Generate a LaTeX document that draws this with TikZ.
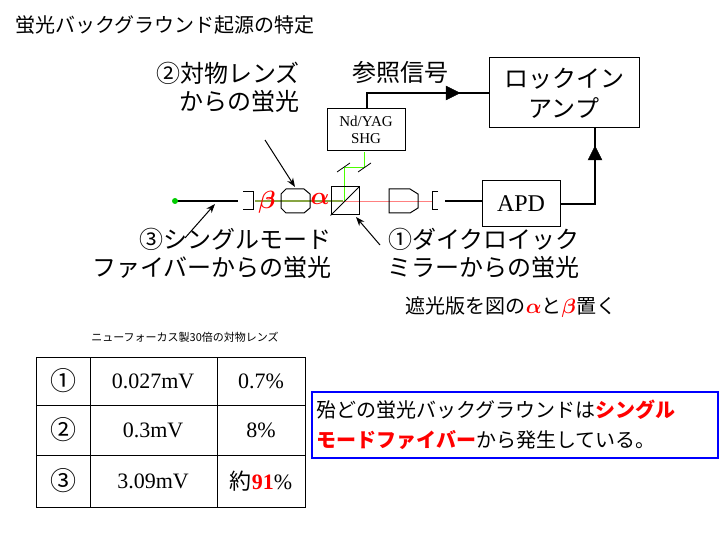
\documentclass[tikz,border=0pt]{standalone}
\usepackage{amsmath,amssymb,bm}
\usepackage{fontspec}
\setmainfont{Liberation Serif}
\newfontfamily\jp{Noto Sans CJK JP}
\usetikzlibrary{arrows.meta}
\begin{document}
\begin{tikzpicture}[x=1pt,y=-1pt,
  blk/.style={draw,line width=1pt},
  wire/.style={line width=1.6pt},
  lbl/.style={font=\jp\fontsize{24}{28}\selectfont,align=right,inner sep=0},
  ptr/.style={-{Stealth[length=9pt]},line width=1pt}]
\useasboundingbox (0,0) rectangle (720,540);
\node[anchor=west,font=\jp\fontsize{20}{22}\selectfont] (title) at (12,25) {蛍光バックグラウンド起源の特定};
% boxes
\node[blk,minimum width=150pt,minimum height=70pt,font=\jp\fontsize{24}{30}\selectfont,align=center] (lock) at (564,93) {ロックイン\\アンプ};
\node[blk,minimum width=78pt,minimum height=46pt,font=\fontsize{24}{26}\selectfont] (apd) at (521,204) {APD};
\node[blk,minimum width=78pt,minimum height=42pt,font=\fontsize{15}{17}\selectfont,align=center,inner sep=1pt] (shg) at (366,130) {Nd/YAG\\SHG};
% reference signal
\coordinate (c1) at (367,93);
\draw[wire] (shg.north -| c1) -- (c1) -- (lock.west |- c1);
\draw[fill] (446,86) -- (460,93) -- (446,100) -- cycle;
\node[lbl,anchor=south west] (ref) at (352,84) {参照信号};
\coordinate (c2) at (595,204);
\draw[wire] (apd.east) -- (c2) -- (lock.south -| c2);
\draw[fill] (588,160) -- (595,146) -- (602,160) -- cycle;
% beams
\draw[red!50,line width=0.8pt] (255,201) -- (432,201);
\draw[yellow!60!green!70!black,line width=1.6pt] (255,201) -- (343,201);
\draw[green!70!yellow,line width=1pt] (364,152) -- (364,168) -- (344,168) -- (344,201);
\draw[line width=0.8pt] (337,172) -- (350,163) (358,172) -- (371,163);
% cube
\node[draw,line width=1pt,minimum width=28pt,minimum height=28pt,inner sep=0] (cube) at (345,201) {};
\draw[line width=0.8pt] (cube.south west) -- (cube.north east);
% lenses
\draw[line width=1pt] (286,189) -- (304,189) -- (310,194) -- (310,208) -- (304,213) -- (286,213) -- (281,208) -- (281,194) -- cycle;
\draw[line width=1pt] (389,189) -- (410,189) -- (418,194) -- (418,208) -- (410,213) -- (389,213) -- cycle;
% connectors
\draw[line width=1pt] (243,192) -- (253,192) -- (253,210) -- (243,210);
\draw[line width=1pt] (438,192) -- (432,192) -- (432,210) -- (438,210);
\coordinate (fl) at (175,201);
\coordinate (fr) at (238,201);
\draw[wire] (fl) -- (fr);
\fill[green!80!black] (fl) circle (3pt);
\coordinate (a1) at (445,201);
\draw[wire] (a1) -- (apd.west |- a1);
\node[text=red,font=\fontsize{24}{26}\selectfont,inner sep=0] (alpha) at (320,199) {$\bm\alpha$};
\node[text=red,font=\fontsize{24}{26}\selectfont,inner sep=0] (beta) at (267,202) {$\bm\beta$};
% labels
\node[lbl,anchor=north east] (l2) at (300,62) {②対物レンズ\\からの蛍光};
\coordinate (p2) at (295,187);
\draw[ptr] (265,140) -- (p2);
\node[lbl,anchor=north east] (l3) at (332,228) {③シングルモード\\ファイバーからの蛍光};
\coordinate (p3) at (215,204);
\draw[ptr] (185,238) -- (p3);
\node[lbl,anchor=north east] (l1) at (580,228) {①ダイクロイック\\ミラーからの蛍光};
\coordinate (p1) at (356,217);
\draw[ptr] (380,245) -- (p1);
\node[font=\jp\fontsize{20}{22}\selectfont] (shade) at (511,307) {遮光版を図の\textcolor{red}{$\bm\alpha$}と\textcolor{red}{$\bm\beta$}置く};
% table
\node[font=\jp\fontsize{11}{12}\selectfont] (cap) at (185,337) {ニューフォーカス製30倍の対物レンズ};
\draw[line width=1pt] (36,357) rectangle (305,507);
\draw[line width=1pt] (36,405) -- (305,405) (36,455) -- (305,455) (90,357) -- (90,507) (217,357) -- (217,507);
\tikzset{tc/.style={font=\fontsize{22}{24}\selectfont}}
\node[tc,font=\jp\fontsize{26}{28}\selectfont] (r1a) at (63,381) {①};
\node[tc] (r1b) at (153,381) {0.027mV};
\node[tc] (r1c) at (261,381) {0.7\%};
\node[tc,font=\jp\fontsize{26}{28}\selectfont] (r2a) at (63,430) {②};
\node[tc] (r2b) at (153,430) {0.3mV};
\node[tc] (r2c) at (261,430) {8\%};
\node[tc,font=\jp\fontsize{26}{28}\selectfont] (r3a) at (63,481) {③};
\node[tc] (r3b) at (153,481) {3.09mV};
\node[tc] (r3c) at (261,481) {{\jp 約}\textcolor{red}{\bfseries 91}\%};
% text box
\node[draw=blue,line width=1.5pt,minimum width=406pt,minimum height=66pt,font=\jp\fontsize{20}{30}\selectfont,align=left,anchor=north west,text width=396pt,inner sep=4pt] (note) at (311,391) {殆どの蛍光バックグラウンドは\textcolor{red}{\bfseries シングル}\\\textcolor{red}{\bfseries モードファイバー}から発生している。};
\end{tikzpicture}
\end{document}
